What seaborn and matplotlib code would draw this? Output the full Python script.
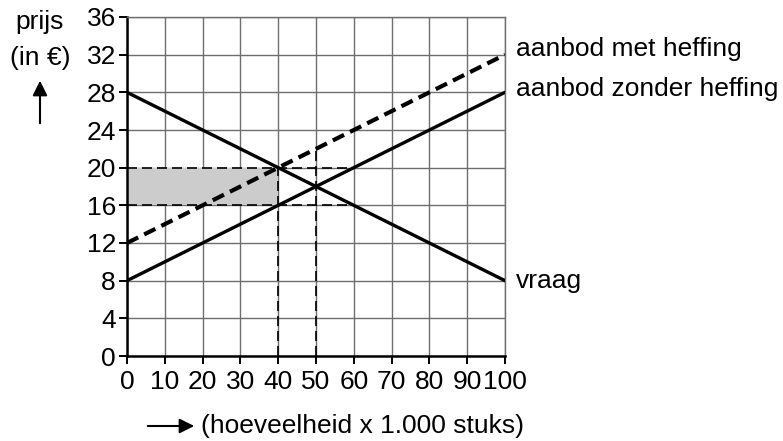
import matplotlib
matplotlib.use("Agg")
import matplotlib.pyplot as plt
import seaborn as sns
import pandas as pd

# data
x_vals = [0, 100]
vraag = [28, 8]
aanbod_zonder = [8, 28]
aanbod_met = [12, 32]
x_ticks = [0, 10, 20, 30, 40, 50, 60, 70, 80, 90, 100]
y_ticks = [0, 4, 8, 12, 16, 20, 24, 28, 32, 36]
shade_x = [0, 40]
shade_y = [16, 20]
h_dashed = [(20, 0, 60), (16, 0, 60)]
v_dashed = [(40, 0, 20), (50, 0, 22)]
line_labels = ["vraag", "aanbod zonder heffing", "aanbod met heffing"]

sns.set_theme(style="white")
plt.rcParams['font.family'] = ['Liberation Sans', 'DejaVu Sans']
plt.rcParams['text.color'] = 'black'

FS = 19

fig = plt.figure(figsize=(7.83, 4.41), dpi=100)
ax = fig.add_axes([127/783, 1-356/441, (505-127)/783, (356-17)/441])

ax.set_xlim(0, 100)
ax.set_ylim(0, 36)
ax.set_xticks(x_ticks)
ax.set_yticks(y_ticks)
ax.grid(True, color="#6e6e6e", linewidth=1.0)
ax.set_axisbelow(True)

for s in ["top", "right"]:
    ax.spines[s].set_color("#6e6e6e")
    ax.spines[s].set_linewidth(1.0)
for s in ["left", "bottom"]:
    ax.spines[s].set_color("black")
    ax.spines[s].set_linewidth(1.8)

ax.fill_between(shade_x, shade_y[0], shade_y[1], color="#cccccc", zorder=1, linewidth=0)

for yv, x0, x1 in h_dashed:
    ax.plot([x0, x1], [yv, yv], color="black", linestyle=(0, (6, 3)), linewidth=1.2, zorder=2)
for xv, y0, y1 in v_dashed:
    ax.plot([xv, xv], [y0, y1], color="black", linestyle=(0, (6, 3)), linewidth=1.2, zorder=2)

df = pd.DataFrame({"x": x_vals * 3,
                   "y": vraag + aanbod_zonder + aanbod_met,
                   "lijn": [line_labels[0]] * 2 + [line_labels[1]] * 2 + [line_labels[2]] * 2})
sns.lineplot(data=df[df.lijn == line_labels[0]], x="x", y="y", ax=ax, color="black", linewidth=2.4, legend=False, zorder=3)
sns.lineplot(data=df[df.lijn == line_labels[1]], x="x", y="y", ax=ax, color="black", linewidth=2.4, legend=False, zorder=3)
sns.lineplot(data=df[df.lijn == line_labels[2]], x="x", y="y", ax=ax, color="black", linewidth=3.0,
             linestyle=(0, (3, 1.6)), legend=False, zorder=3)

ax.set_xlabel("")
ax.set_ylabel("")
ax.tick_params(axis="both", which="both", direction="out", length=6, width=1.4, color="black",
               labelsize=FS, labelcolor="black", bottom=True, left=True)
ax.tick_params(axis="y", pad=2)
ax.tick_params(axis="x", pad=4)

# line labels
ax.text(103, vraag[-1], line_labels[0], fontsize=FS, va="center", ha="left", clip_on=False, color="black")
ax.text(103, aanbod_zonder[-1] + 0.4, line_labels[1], fontsize=FS, va="center", ha="left", clip_on=False, color="black")
ax.text(103, aanbod_met[-1] + 0.6, line_labels[2], fontsize=FS, va="center", ha="left", clip_on=False, color="black")

# axis captions
fig.text(40/783, 1-22/441, "prijs", fontsize=FS, ha="center", va="center", color="black")
fig.text(40/783, 1-58/441, "(in €)", fontsize=FS, ha="center", va="center", color="black")
fig.add_artist(matplotlib.patches.FancyArrowPatch((40/783, 1-126/441), (40/783, 1-78/441),
               transform=fig.transFigure, arrowstyle="-|>", mutation_scale=22, color="black", linewidth=1.5))
fig.add_artist(matplotlib.patches.FancyArrowPatch((145/783, 1-426/441), (197/783, 1-426/441),
               transform=fig.transFigure, arrowstyle="-|>", mutation_scale=22, color="black", linewidth=1.5))
fig.text(201/783, 1-426/441, "(hoeveelheid x 1.000 stuks)", fontsize=FS, ha="left", va="center", color="black")

fig.savefig("out.png", dpi=100)
